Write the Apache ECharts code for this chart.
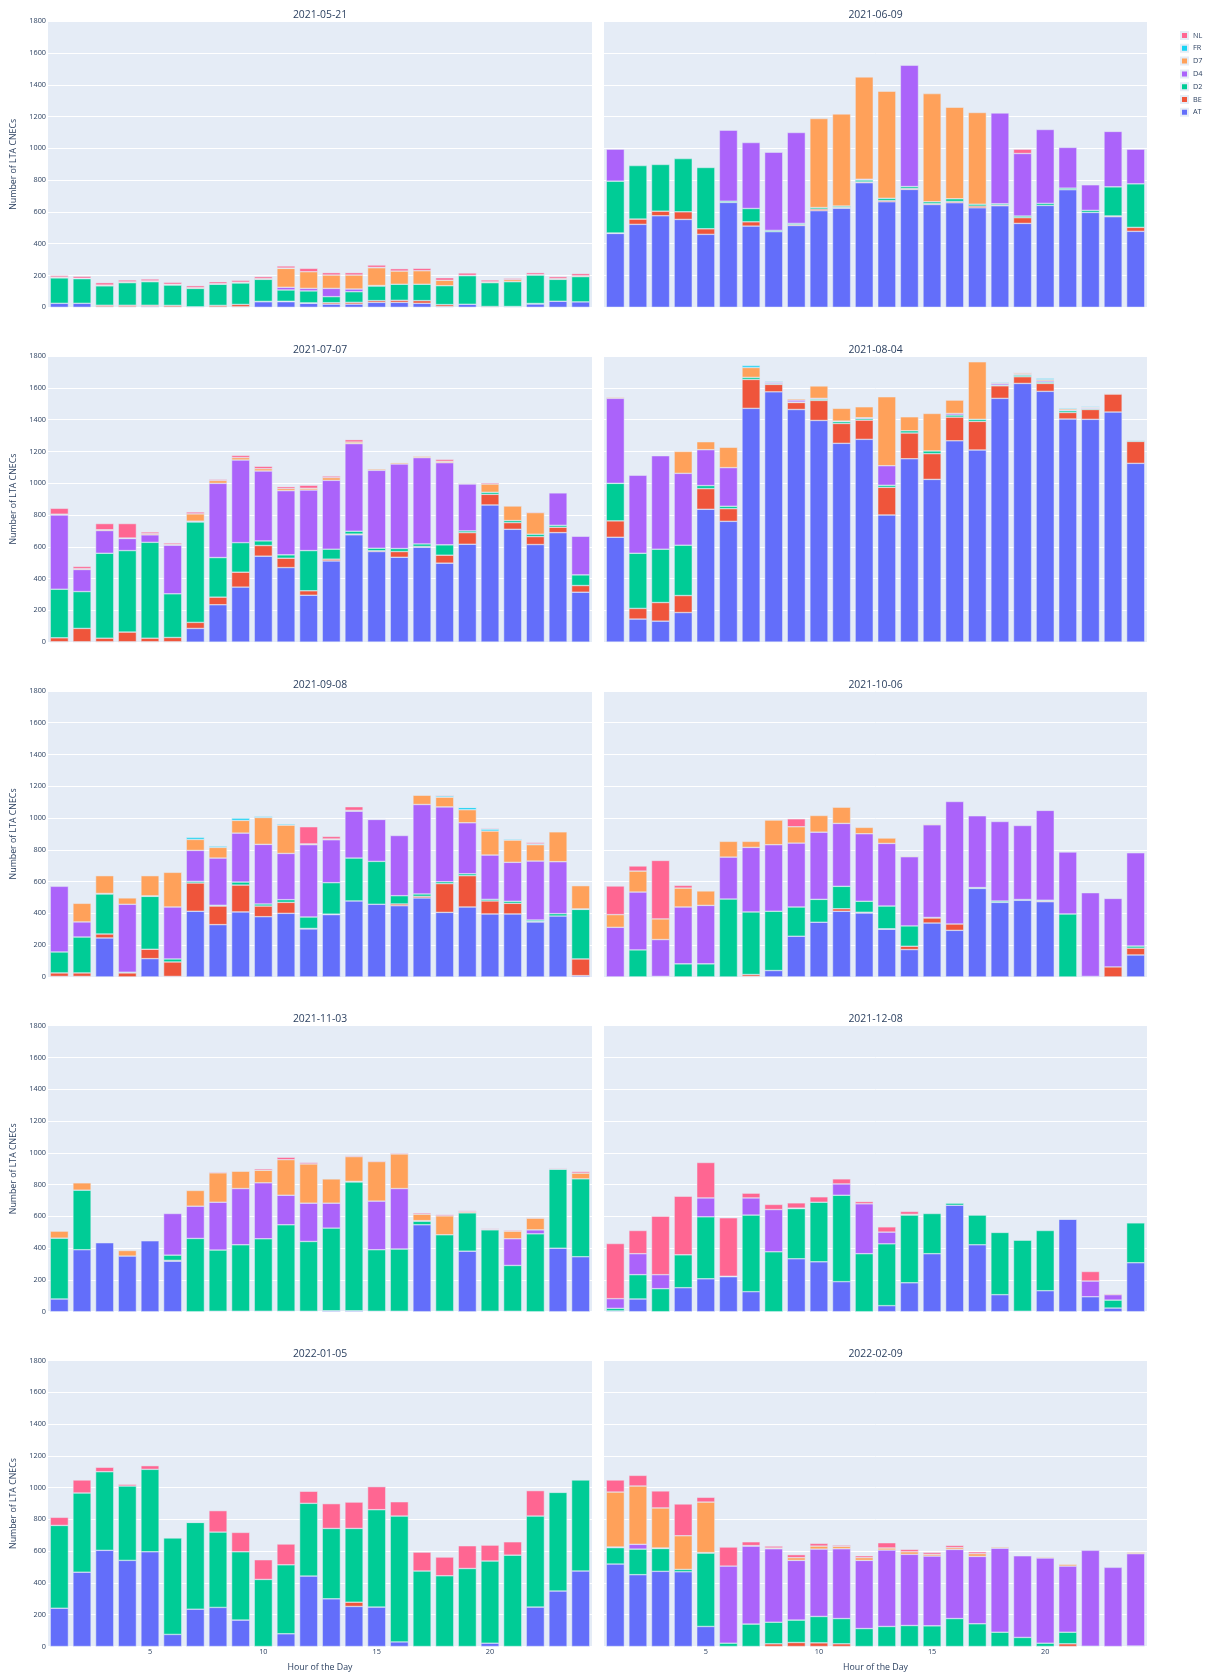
<!DOCTYPE html>
<html>
<head>
<meta charset="utf-8">
<script src="https://cdn.jsdelivr.net/npm/echarts@6/dist/echarts.min.js"></script>
<style>
  html, body { margin: 0; padding: 0; background: #fff; }
  #chart { width: 1208px; height: 1674px; }
</style>
</head>
<body>
<div id="chart"></div>
<script>
// Snapshot dates, one panel each
const DATES = ['2021-05-21', '2021-06-09', '2021-07-07', '2021-08-04', '2021-09-08',
               '2021-10-06', '2021-11-03', '2021-12-08', '2022-01-05', '2022-02-09'];

// Hours of the day (x categories)
const HOURS = ['1','2','3','4','5','6','7','8','9','10','11','12',
               '13','14','15','16','17','18','19','20','21','22','23','24'];

// Y axis ticks
const Y_TICKS = [0, 200, 400, 600, 800, 1000, 1200, 1400, 1600, 1800];

// Number of LTA CNECs per TSO — one row of 24 hourly values per date
const AT = [
  [25,25,3,3,5,2,3,2,3,35,35,25,20,20,31,31,25,5,19,0,2,21,38,34],
  [465,522,576,553,459,660,511,476,515,608,624,784,664,742,647,658,626,639,528,641,740,597,570,478],
  [2,2,2,2,2,2,86,235,346,541,469,295,511,675,570,534,597,497,616,863,710,614,689,314],
  [660,145,132,186,836,760,1471,1575,1464,1395,1251,1276,800,1154,1024,1267,1209,1534,1628,1578,1404,1402,1448,1125],
  [3,3,245,0,115,3,413,329,409,379,400,302,392,478,457,448,497,406,440,396,396,346,383,8],
  [0,0,3,0,0,0,3,40,256,344,413,402,300,172,339,293,557,469,482,473,0,3,0,138],
  [80,390,434,350,446,318,0,3,3,3,3,3,6,6,3,3,547,3,381,3,3,0,400,346],
  [5,80,0,151,207,220,126,0,333,314,189,0,38,182,365,670,421,107,3,132,582,94,23,308],
  [241,468,605,542,596,76,235,246,166,0,80,443,300,252,248,29,0,0,0,21,0,248,349,475],
  [519,452,473,470,126,0,0,0,0,0,0,0,0,0,0,0,0,0,0,0,0,0,0,0]
];
const BE = [
  [0,0,10,10,8,10,0,10,15,2,3,3,9,11,11,13,17,12,0,5,3,3,0,0],
  [3,33,29,48,35,0,27,0,5,10,5,5,8,6,5,8,11,5,36,0,0,0,5,25],
  [25,84,23,61,23,27,38,48,94,67,59,28,11,5,5,36,5,50,73,67,42,50,34,42],
  [103,67,117,107,130,80,182,47,44,126,125,121,174,162,162,149,180,79,42,50,41,62,113,138],
  [22,22,25,25,59,91,178,117,169,67,69,3,3,0,0,11,10,181,197,82,67,3,0,105],
  [0,0,0,0,0,0,12,0,0,0,16,5,3,21,32,40,0,0,0,5,0,0,63,43],
  [0,0,0,0,0,5,0,0,0,0,0,0,0,0,0,0,0,0,0,0,0,0,0,0],
  [0,0,0,0,0,0,0,0,0,0,0,0,0,0,0,0,0,0,0,0,0,0,0,0],
  [0,0,0,0,0,0,0,0,0,0,0,0,0,27,0,0,0,0,0,0,0,0,0,0],
  [0,0,0,0,0,0,0,17,25,23,17,0,0,0,0,0,0,0,0,0,17,0,0,0]
];
const D2 = [
  [160,155,122,142,148,128,116,133,135,139,71,75,38,67,92,101,103,119,180,150,156,179,138,159],
  [326,337,294,335,386,8,84,8,8,10,8,12,14,12,12,17,12,8,10,13,10,13,183,274],
  [306,232,534,513,603,275,632,249,186,29,21,253,63,18,16,19,16,65,11,13,13,15,12,67],
  [236,347,336,317,19,15,13,5,3,8,12,10,13,14,17,13,13,5,10,8,11,5,0,5],
  [132,226,252,5,333,19,10,5,19,13,17,72,198,270,270,52,15,12,12,10,13,9,15,312],
  [0,170,0,82,82,490,394,373,184,144,141,69,143,128,3,0,5,8,5,5,396,0,0,13],
  [383,375,0,0,0,33,461,385,418,456,544,439,520,811,387,391,23,481,241,512,288,490,497,490],
  [16,153,145,207,390,3,482,377,316,375,544,365,389,426,253,13,187,392,447,379,3,0,50,251],
  [521,498,495,468,519,607,546,474,430,422,434,458,443,464,613,792,475,445,491,517,575,573,621,573],
  [103,161,144,15,462,21,141,136,141,166,159,113,126,132,130,176,143,90,57,21,73,2,0,3]
];
const D4 = [
  [0,0,0,0,0,0,0,0,0,0,17,16,52,17,3,0,0,0,0,0,0,0,0,0],
  [201,0,0,0,0,447,415,492,572,0,0,5,0,763,0,0,0,571,394,465,256,161,349,218],
  [467,139,143,76,47,306,5,467,520,440,404,381,433,551,490,532,543,517,295,0,0,0,204,243],
  [535,491,588,452,226,243,0,8,12,5,3,5,123,0,0,10,0,10,5,8,5,5,0,0],
  [413,95,3,427,3,327,195,297,308,375,291,455,270,295,264,379,563,471,321,279,245,371,327,3],
  [312,364,232,358,368,264,406,419,402,423,396,425,394,435,583,771,452,501,466,565,390,527,431,587],
  [0,0,0,0,0,262,203,301,354,352,186,241,157,3,306,381,3,0,0,0,168,25,0,0],
  [61,132,88,0,119,0,108,266,0,0,71,314,74,0,0,0,0,0,0,0,0,99,34,0],
  [0,0,0,0,0,0,0,0,0,0,0,0,0,0,0,0,0,0,0,0,0,0,0,0],
  [4,30,3,0,3,485,491,462,376,424,439,429,481,448,439,435,424,529,514,536,416,603,498,581]
];
const D7 = [
  [5,3,5,5,5,5,5,4,5,5,119,105,84,88,112,83,85,34,2,5,13,3,5,5],
  [0,0,0,0,0,0,0,0,0,560,580,644,674,0,681,576,577,0,0,0,0,0,0,0],
  [5,5,5,3,7,5,46,18,15,14,13,11,17,10,8,8,8,9,5,52,92,136,0,0],
  [6,0,0,138,50,128,62,5,8,78,80,69,434,88,236,84,362,5,8,8,8,5,5,0],
  [0,117,112,40,127,218,69,67,80,169,178,5,5,5,3,0,59,61,82,151,140,103,188,146],
  [80,132,130,119,91,99,38,155,103,105,102,40,34,5,5,0,0,0,0,0,0,0,0,0],
  [44,46,0,35,0,0,99,185,109,79,224,247,153,156,249,218,41,119,8,3,48,74,3,36],
  [0,0,0,0,0,0,0,0,3,0,0,0,0,5,0,0,0,0,0,0,0,0,0,0],
  [0,0,0,0,0,0,0,0,0,0,0,0,0,0,0,0,0,0,0,0,0,0,0,0],
  [346,367,252,212,318,0,3,5,17,19,15,17,13,16,11,11,17,7,3,6,11,0,0,8]
];
const FR = [
  [0,0,0,0,0,0,0,0,0,0,2,0,0,0,2,0,0,0,0,0,0,0,0,0],
  [0,0,0,0,0,0,0,0,0,0,0,0,0,0,0,0,0,0,0,0,0,0,0,0],
  [0,0,0,0,0,0,0,0,0,0,0,0,0,0,0,0,0,0,0,0,0,0,0,0],
  [0,0,0,0,0,0,13,5,0,0,0,0,0,0,0,0,0,5,3,8,6,5,0,0],
  [0,0,0,0,0,0,13,8,14,7,7,0,0,0,0,0,0,8,14,12,6,5,0,0],
  [0,0,0,0,0,0,0,0,0,0,0,0,0,0,0,0,0,0,0,0,0,0,0,0],
  [0,0,0,0,0,0,0,0,0,0,0,0,0,0,0,0,0,0,0,0,0,0,0,0],
  [0,0,0,0,0,0,0,0,0,0,0,0,0,0,0,0,0,0,0,0,0,0,0,0],
  [0,0,0,0,0,0,0,0,0,0,0,0,0,0,0,0,0,0,0,0,0,0,0,0],
  [0,0,0,0,0,0,0,0,0,0,0,0,0,0,0,0,0,0,0,0,0,0,0,0]
];
const NL = [
  [10,12,15,12,12,12,12,12,12,12,13,21,15,15,15,15,15,16,15,12,8,12,12,14],
  [0,0,0,0,0,0,0,0,0,0,0,0,0,0,0,0,0,0,27,0,0,0,0,0],
  [37,14,39,91,11,9,12,7,14,15,12,19,10,15,0,0,0,12,3,8,3,5,0,0],
  [0,0,0,0,0,0,0,0,0,0,0,0,0,0,0,0,0,0,4,0,0,0,3,0],
  [0,0,0,0,0,0,0,0,0,0,0,108,16,23,0,0,3,5,3,5,0,9,0,0],
  [180,32,368,17,0,0,0,0,50,0,0,0,0,3,0,0,0,0,0,0,0,0,0,0],
  [0,0,0,0,0,0,0,6,0,9,15,9,3,6,5,6,8,8,6,5,6,4,5,10],
  [347,146,368,369,223,368,30,32,33,34,32,14,33,18,0,0,0,0,0,0,0,60,6,0],
  [51,82,28,11,23,0,3,135,122,124,131,76,156,166,145,90,119,118,143,100,84,160,0,0],
  [76,67,107,200,30,120,24,12,19,17,8,12,33,15,12,14,12,0,0,0,0,0,0,0]
];

// Stack order bottom → top, and legend order top → bottom
const STACK_ORDER = ['AT', 'BE', 'D2', 'D4', 'D7', 'FR', 'NL'];
const LEGEND_ORDER = ['NL', 'FR', 'D7', 'D4', 'D2', 'BE', 'AT'];
const VALUES = { AT, BE, D2, D4, D7, FR, NL };
const COLORS = {
  AT: '#636EFA', BE: '#EF553B', D2: '#00CC96', D4: '#AB63FA',
  D7: '#FFA15A', FR: '#19D3F3', NL: '#FF6692'
};

const FONT = '"Open Sans", "DejaVu Sans", Arial, sans-serif';
const TEXT = '#2a3f5f';
const PLOT_BG = '#E5ECF6';

// Panel geometry: 5 rows x 2 columns
const COL_LEFT = [48, 604];
const COL_WIDTH = [544, 543];
const ROW_TOP0 = 21.3, ROW_STEP = 334.8, PANEL_H = 286;

const grids = [], xAxes = [], yAxes = [], series = [], graphics = [];

DATES.forEach((date, i) => {
  const col = i % 2, row = Math.floor(i / 2);
  const left = COL_LEFT[col], width = COL_WIDTH[col];
  const top = ROW_TOP0 + ROW_STEP * row;
  const isBottom = row === 4, isLeft = col === 0;

  grids.push({
    left, top, width, height: PANEL_H,
    show: true, backgroundColor: PLOT_BG, borderWidth: 0, containLabel: false
  });

  xAxes.push({
    type: 'category', gridIndex: i, data: HOURS,
    axisLine: { show: false }, axisTick: { show: false },
    splitLine: { show: false },
    axisLabel: {
      show: isBottom, color: TEXT, fontSize: 7.3, fontFamily: FONT, margin: 2,
      interval: (idx) => (idx + 1) % 5 === 0
    },
    name: isBottom ? 'Hour of the Day' : '',
    nameLocation: 'middle', nameGap: 16,
    nameTextStyle: { color: TEXT, fontSize: 8.8, fontFamily: FONT }
  });

  yAxes.push({
    type: 'value', gridIndex: i,
    min: Y_TICKS[0], max: Y_TICKS[Y_TICKS.length - 1], interval: Y_TICKS[1] - Y_TICKS[0],
    axisLine: { show: false }, axisTick: { show: false },
    splitLine: { show: true, lineStyle: { color: '#ffffff', width: 1 } },
    axisLabel: {
      show: isLeft, color: TEXT, fontSize: 7.3, fontFamily: FONT, margin: 2,
      formatter: (v) => String(v)
    },
    name: isLeft ? 'Number of LTA CNECs' : '',
    nameLocation: 'middle', nameGap: 30, nameRotate: 90,
    nameTextStyle: { color: TEXT, fontSize: 8.8, fontFamily: FONT }
  });

  STACK_ORDER.forEach(name => {
    series.push({
      type: 'bar', name, xAxisIndex: i, yAxisIndex: i, stack: 'panel' + i,
      barCategoryGap: '20%',
      data: VALUES[name][i].map(v => (v === 0 ? '-' : v)),
      itemStyle: { color: COLORS[name], borderColor: PLOT_BG, borderWidth: 0.5 },
      emphasis: { disabled: true },
      animation: false
    });
  });

  // Panel title centred above the plot area
  graphics.push({
    type: 'text', x: left + width / 2, y: top - 6.3, silent: true,
    style: {
      text: date, fill: TEXT, fontSize: 10.4, fontFamily: FONT,
      textAlign: 'center', textVerticalAlign: 'middle'
    }
  });
});

const chart = echarts.init(document.getElementById('chart'), null, { renderer: 'canvas' });
chart.setOption({
  backgroundColor: '#ffffff',
  animation: false,
  textStyle: { fontFamily: FONT },
  grid: grids,
  xAxis: xAxes,
  yAxis: yAxes,
  series,
  graphic: graphics,
  legend: {
    data: LEGEND_ORDER.map(n => ({ name: n, itemStyle: { color: COLORS[n] } })),
    orient: 'vertical', left: 1175, top: 26,
    icon: 'rect', itemWidth: 7, itemHeight: 7, itemGap: 3.8,
    selectedMode: false,
    textStyle: { color: TEXT, fontSize: 7.3, fontFamily: FONT, lineHeight: 7 }
  },
  tooltip: { show: false }
});
</script>
</body>
</html>
